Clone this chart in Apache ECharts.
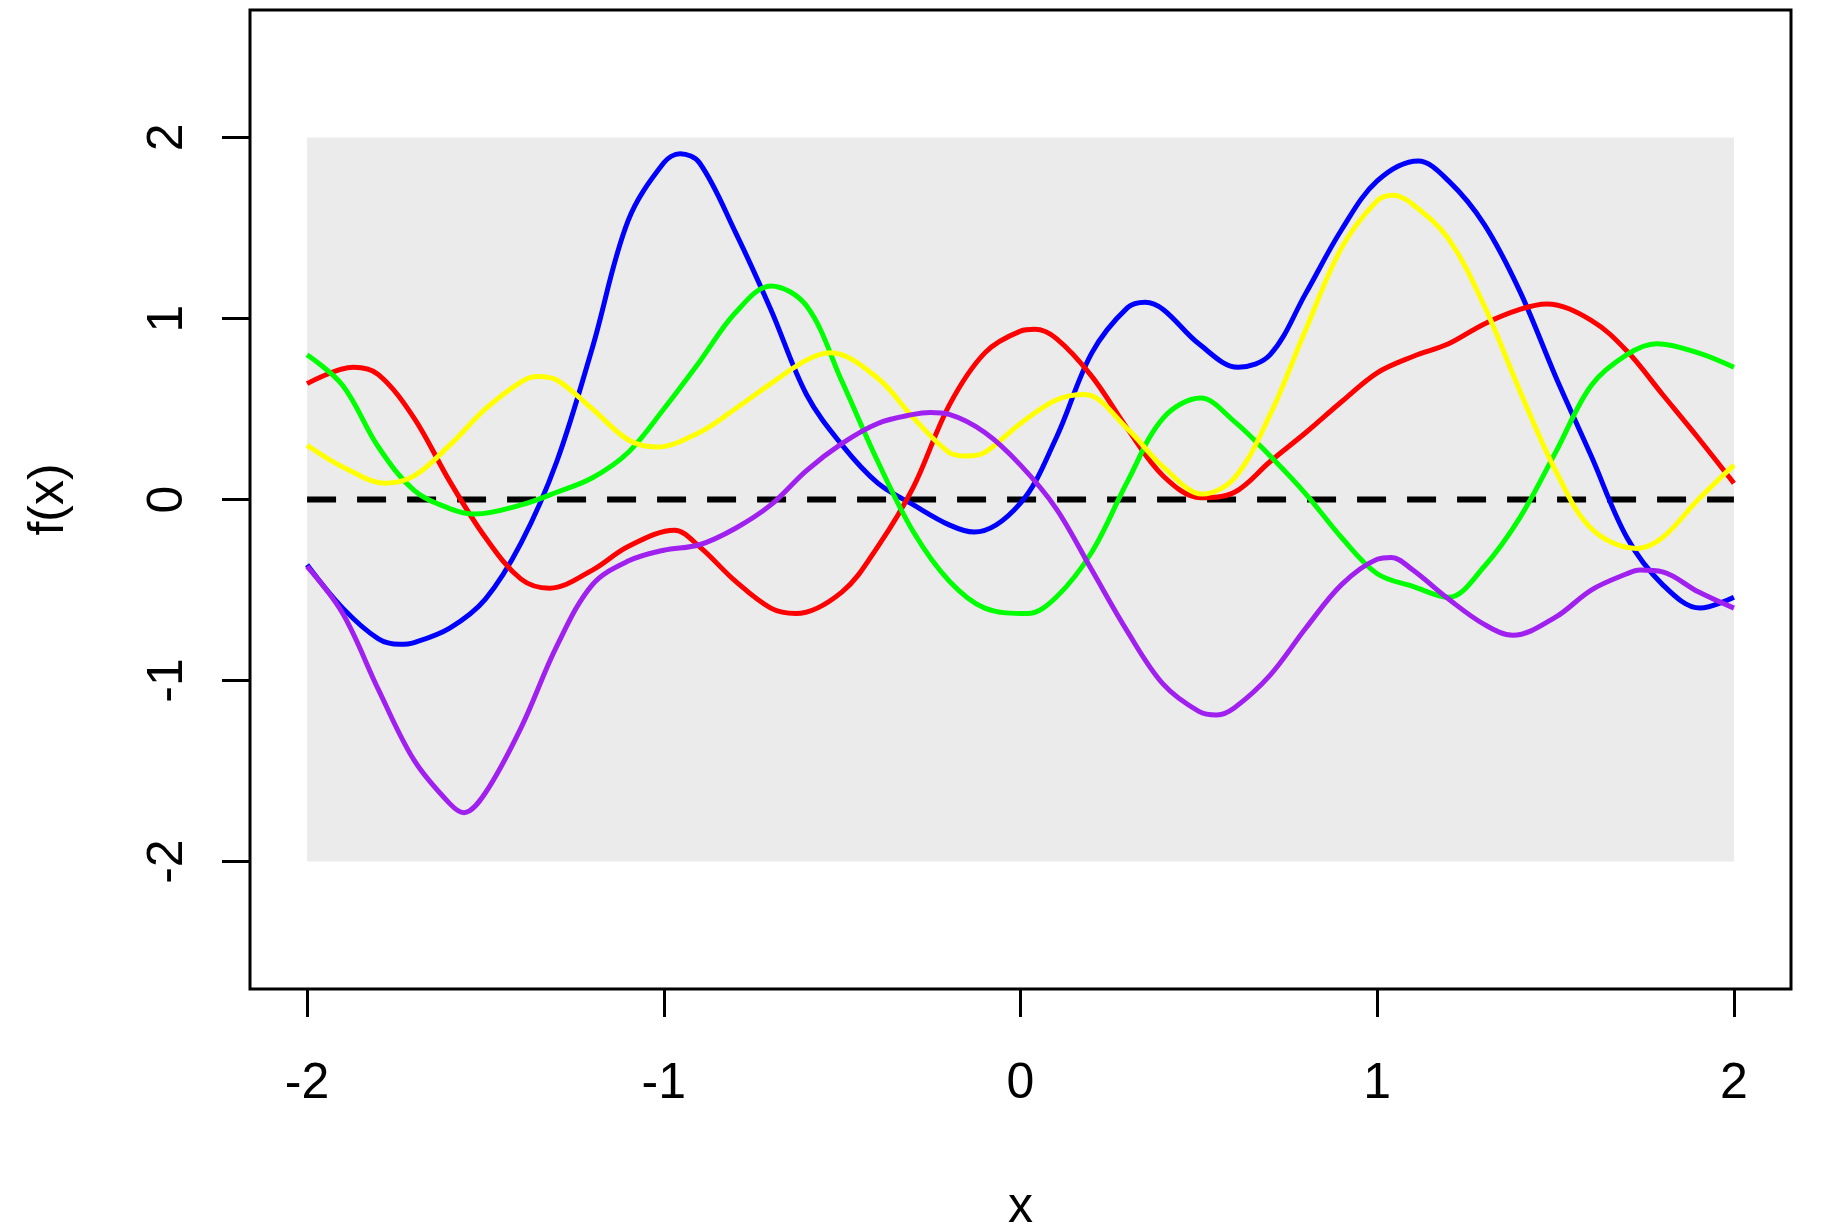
<!DOCTYPE html>
<html>
<head>
<meta charset="utf-8">
<title>GP samples</title>
<script src="https://cdn.jsdelivr.net/npm/echarts@6/dist/echarts.min.js"></script>
<style>
  html, body { margin: 0; padding: 0; background: #fff; }
  #chart { width: 1822px; height: 1229px; }
</style>
</head>
<body>
<div id="chart"></div>
<script>
// grid of x values the samples were read at
const xs = [-2.0, -1.9, -1.8, -1.7, -1.6, -1.5, -1.4, -1.3, -1.2, -1.1,
            -1.0, -0.9, -0.8, -0.7, -0.6, -0.5, -0.4, -0.3, -0.2, -0.1,
             0.0,  0.1,  0.2,  0.3,  0.4,  0.5,  0.6,  0.7,  0.8,  0.9,
             1.0,  1.1,  1.2,  1.3,  1.4,  1.5,  1.6,  1.7,  1.8,  1.9, 2.0];

const blueY = [-0.36, -0.60, -0.77, -0.79, -0.71, -0.55, -0.24, 0.21, 0.84, 1.54,
                1.86, 1.86, 1.48, 1.05, 0.58, 0.30, 0.09, -0.03, -0.14, -0.16,
               -0.02, 0.34, 0.81, 1.06, 1.05, 0.86, 0.74, 0.80, 1.14, 1.49,
                1.76, 1.87, 1.76, 1.52, 1.15, 0.68, 0.24, -0.21, -0.47, -0.58, -0.54];

const redY = [0.64, 0.72, 0.69, 0.45, 0.10, -0.21, -0.44, -0.48, -0.39, -0.26,
              -0.17, -0.26, -0.45, -0.60, -0.62, -0.51, -0.26, 0.07, 0.52, 0.81,
               0.93, 0.89, 0.68, 0.39, 0.13, 0.02, 0.04, 0.21, 0.37, 0.54,
               0.70, 0.79, 0.86, 0.97, 1.05, 1.07, 0.99, 0.82, 0.58, 0.34, 0.09];

const greenY = [0.80, 0.63, 0.29, 0.05, -0.05, -0.08, -0.03, 0.04, 0.12, 0.26,
                0.50, 0.76, 1.03, 1.18, 1.07, 0.65, 0.21, -0.18, -0.45, -0.60,
               -0.62, -0.54, -0.29, 0.10, 0.45, 0.55, 0.43, 0.24, 0.03, -0.21,
               -0.41, -0.48, -0.54, -0.37, -0.10, 0.26, 0.63, 0.80, 0.86, 0.81, 0.73];

const yellowY = [0.30, 0.18, 0.11, 0.13, 0.30, 0.50, 0.65, 0.66, 0.50, 0.33,
                 0.30, 0.37, 0.50, 0.64, 0.77, 0.79, 0.67, 0.45, 0.26, 0.26,
                 0.42, 0.55, 0.56, 0.39, 0.18, 0.04, 0.12, 0.47, 0.94, 1.39,
                 1.65, 1.63, 1.44, 1.07, 0.60, 0.16, -0.16, -0.27, -0.21, 0.00, 0.19];

const purpleY = [-0.37, -0.63, -1.05, -1.44, -1.68, -1.62, -1.26, -0.81, -0.47, -0.34,
                 -0.28, -0.25, -0.16, -0.03, 0.16, 0.31, 0.42, 0.47, 0.47, 0.37,
                  0.19, -0.05, -0.39, -0.73, -1.02, -1.17, -1.15, -0.97, -0.71, -0.47,
                 -0.33, -0.39, -0.55, -0.69, -0.75, -0.65, -0.50, -0.41, -0.40, -0.51, -0.60];

// peaks and troughs, [x, y]
const blueTurns = [[-1.74, -0.80], [-0.954, 1.91], [-0.13, -0.18], [0.35, 1.09],
                   [0.61, 0.73], [1.115, 1.87], [1.905, -0.60]];
const redTurns = [[-1.87, 0.73], [-1.32, -0.49], [-0.97, -0.17], [-0.63, -0.63],
                  [0.04, 0.94], [0.505, 0.01], [1.475, 1.08]];
const greenTurns = [[-1.53, -0.08], [-0.70, 1.18], [0.02, -0.63], [0.505, 0.56],
                    [1.20, -0.54], [1.784, 0.86]];
const yellowTurns = [[-1.78, 0.09], [-1.356, 0.68], [-1.02, 0.29], [-0.533, 0.81],
                     [-0.15, 0.24], [0.18, 0.58], [0.51, 0.03], [1.045, 1.68],
                     [1.728, -0.27]];
const purpleTurns = [[-1.56, -1.73], [-0.253, 0.48], [0.55, -1.19], [1.04, -0.32],
                     [1.38, -0.75], [1.737, -0.39]];

// mean line and the shaded +-2 band
const meanX = [-2, 2];
const meanY = [0, 0];
const bandX = [-2, 2];
const bandY = [-2, 2];

const tickVals = [-2, -1, 0, 1, 2];

const samples = [
  { name: 'blue', color: '#0000ff', ys: blueY, turns: blueTurns },
  { name: 'red', color: '#ff0000', ys: redY, turns: redTurns },
  { name: 'green', color: '#00ff00', ys: greenY, turns: greenTurns },
  { name: 'yellow', color: '#ffff00', ys: yellowY, turns: yellowTurns },
  { name: 'purple', color: '#a020f0', ys: purpleY, turns: purpleTurns }
];

const font = '"Liberation Sans", Arial, sans-serif';

// grid readings plus turning points, grid points right next to a turn dropped
function buildPoints(ys, turns) {
  const pts = xs
    .map((x, j) => [x, ys[j]])
    .filter(p => !turns.some(t => Math.abs(t[0] - p[0]) < 0.035));
  return pts.concat(turns).sort((a, b) => a[0] - b[0]);
}

const chart = echarts.init(document.getElementById('chart'));

const sampleSeries = samples.map((s, i) => ({
  name: s.name,
  type: 'line',
  data: buildPoints(s.ys, s.turns),
  symbol: 'none',
  smooth: 0.35,
  z: 3 + i,
  lineStyle: { color: s.color, width: 5 }
}));

const option = {
  animation: false,
  backgroundColor: '#fff',
  grid: {
    left: 250, right: 31, top: 10, bottom: 240,
    outerBoundsMode: 'none',
    containLabel: false,
    show: true,
    borderColor: '#000',
    borderWidth: 3,
    backgroundColor: 'transparent'
  },
  xAxis: {
    type: 'value',
    min: -2.16,
    max: 2.16,
    name: 'x',
    nameLocation: 'middle',
    nameGap: 194,
    nameTextStyle: { fontSize: 50, fontFamily: font, color: '#000' },
    axisLine: { show: false, onZero: false },
    splitLine: { show: false },
    axisTick: {
      show: true, length: 28, customValues: tickVals,
      lineStyle: { color: '#000', width: 3 }
    },
    axisLabel: {
      customValues: tickVals, margin: 70,
      fontSize: 50, fontFamily: font, color: '#000'
    }
  },
  yAxis: {
    type: 'value',
    min: -2.704,
    max: 2.704,
    name: 'f(x)',
    nameLocation: 'middle',
    nameRotate: 90,
    nameGap: 176,
    nameTextStyle: { fontSize: 50, fontFamily: font, color: '#000' },
    axisLine: { show: false, onZero: false },
    splitLine: { show: false },
    axisTick: {
      show: true, length: 28, customValues: tickVals,
      lineStyle: { color: '#000', width: 3 }
    },
    axisLabel: {
      customValues: tickVals, margin: 57, rotate: 90,
      fontSize: 50, fontFamily: font, color: '#000'
    }
  },
  series: [
    {
      name: 'mean',
      type: 'line',
      data: meanX.map((x, j) => [x, meanY[j]]),
      symbol: 'none',
      z: 2,
      lineStyle: { color: '#000', width: 6, type: [29, 21] },
      markArea: {
        silent: true,
        itemStyle: { color: '#ebebeb' },
        data: [[{ coord: [bandX[0], bandY[0]] }, { coord: [bandX[1], bandY[1]] }]]
      }
    },
    ...sampleSeries
  ]
};

chart.setOption(option);
</script>
</body>
</html>
